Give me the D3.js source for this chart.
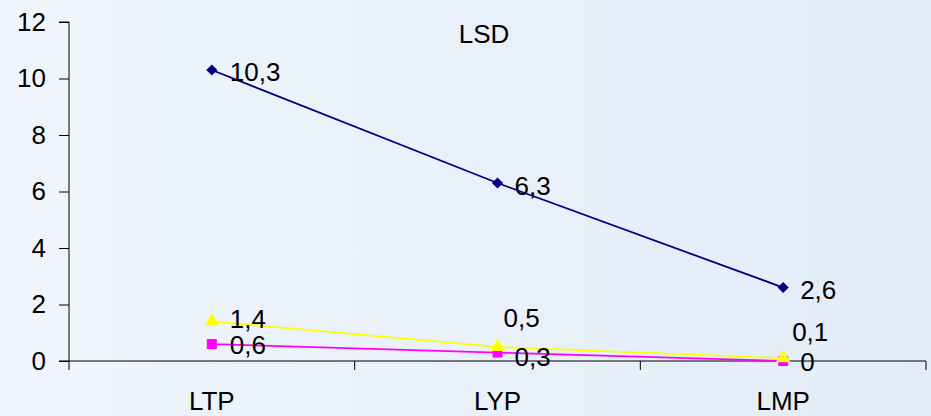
<!DOCTYPE html>
<html><head><meta charset="utf-8">
<script src="https://cdn.jsdelivr.net/npm/d3@7"></script>
<style>html,body{margin:0;padding:0;}svg{display:block;}</style>
</head><body>
<svg id="chart" width="931" height="416"></svg>
<script>
const categories = ["LTP", "LYP", "LMP"];
const seriesNavy = [10.3, 6.3, 2.6];
const seriesYellow = [1.4, 0.5, 0.1];
const seriesMagenta = [0.6, 0.3, 0];
const yTicks = [0, 2, 4, 6, 8, 10, 12];
const title = "LSD";

// label offsets (style, not data): [dx, baseline dy]
const navyLabelOff = [[18, 11], [17, 12], [17, 11]];
const yellowLabelOff = [[18, 7], [6, -20], [9, -17]];
const magentaLabelOff = [[18, 10], [17, 13], [17, 10]];

const svg = d3.select("#chart");
const W = 931, H = 416;
const defs = svg.append("defs");
const grad = defs.append("linearGradient").attr("id", "bg").attr("x1", 0).attr("x2", 1).attr("y1", 0).attr("y2", 0);
grad.append("stop").attr("offset", "0%").attr("stop-color", "#f0f5fb");
grad.append("stop").attr("offset", "100%").attr("stop-color", "#e2ecf8");
svg.append("rect").attr("width", W).attr("height", H).attr("fill", "url(#bg)");

const m = {left: 69, right: 5, top: 22, bottom: 55};
const x = d3.scaleBand().domain(categories).range([m.left, W - m.right]).paddingInner(0).paddingOuter(0);
const y = d3.scaleLinear().domain([0, 12]).range([H - m.bottom, m.top]);
const font = "Arial, 'Liberation Sans', sans-serif";
const FS = 26;

// y axis
const ya = svg.append("g").attr("transform", `translate(${m.left},0)`)
  .call(d3.axisLeft(y).tickValues(yTicks).tickSize(10).tickPadding(13).tickFormat(d3.format("d")));
ya.select(".domain").attr("stroke", "#000").attr("d", `M-10,${y(12)}H0V${y(0)}`);
ya.selectAll(".tick line").attr("stroke", "#000");
ya.selectAll("text").attr("font-family", font).attr("font-size", FS).attr("fill", "#000");

// x axis
const xa = svg.append("g").attr("transform", `translate(0,${y(0)})`);
xa.append("line").attr("x1", m.left - 10).attr("x2", W - m.right).attr("stroke", "#000").attr("stroke-width", 1.2);
const bounds = categories.map(c => x(c)).concat([x(categories[categories.length - 1]) + x.bandwidth()]);
xa.selectAll("line.tk").data(bounds).enter().append("line").attr("class", "tk")
  .attr("x1", d => d).attr("x2", d => d).attr("y1", 0).attr("y2", 9).attr("stroke", "#000");
xa.selectAll("text").data(categories).enter().append("text")
  .attr("x", d => x(d) + x.bandwidth() / 2).attr("y", 49)
  .attr("text-anchor", "middle").attr("font-family", font).attr("font-size", FS).attr("fill", "#000")
  .text(d => d);

// title
svg.append("text").attr("x", 484).attr("y", 43).attr("text-anchor", "middle")
  .attr("font-family", font).attr("font-size", FS).attr("fill", "#000").text(title);

const cx = c => x(c) + x.bandwidth() / 2;
const fmt = v => String(v).replace(".", ",");

function drawSeries(vals, color, symbolType, size, rotate, offs) {
  const line = d3.line().x((d, i) => cx(categories[i])).y(d => y(d));
  svg.append("path").datum(vals).attr("d", line).attr("fill", "none").attr("stroke", color).attr("stroke-width", 1.8);
  svg.selectAll(null).data(vals).enter().append("path")
    .attr("d", d3.symbol().type(symbolType).size(size))
    .attr("transform", (d, i) => `translate(${cx(categories[i])},${y(d)}) rotate(${rotate})`)
    .attr("fill", color);
  return () => svg.selectAll(null).data(vals).enter().append("text")
    .attr("x", (d, i) => cx(categories[i]) + offs[i][0])
    .attr("y", (d, i) => y(d) + offs[i][1])
    .attr("font-family", font).attr("font-size", FS).attr("fill", "#000")
    .text(d => fmt(d));
}

const lm = drawSeries(seriesMagenta, "#ff00ff", d3.symbolSquare, 100, 0, magentaLabelOff);
const ly = drawSeries(seriesYellow, "#ffff00", d3.symbolTriangle, 90, 0, yellowLabelOff);
const ln = drawSeries(seriesNavy, "#000080", d3.symbolSquare, 62, 45, navyLabelOff);
lm(); ly(); ln();
</script>
</body></html>
